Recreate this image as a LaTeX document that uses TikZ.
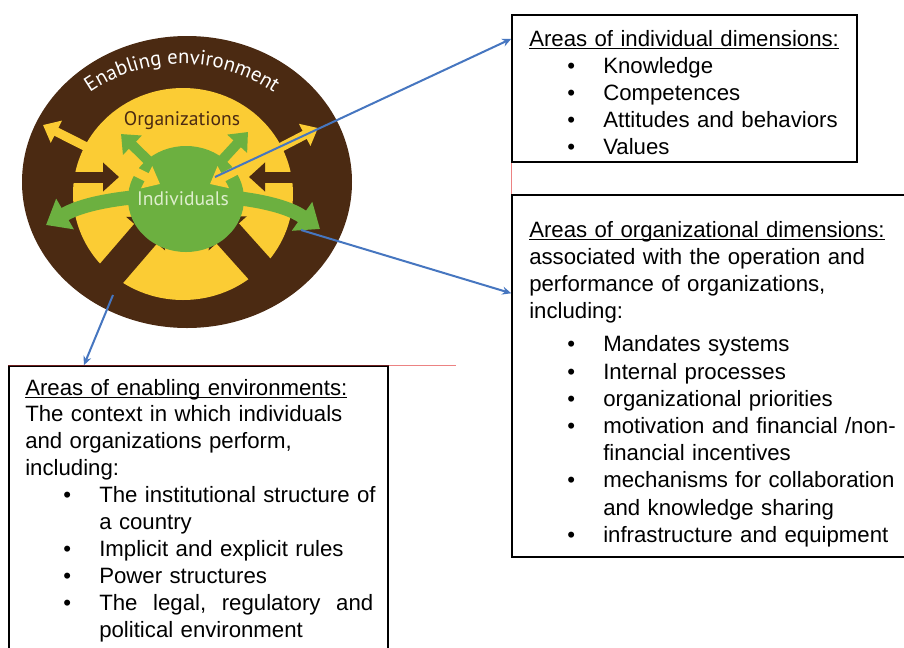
\documentclass[tikz,border=0pt]{standalone}
\usepackage{fontspec}
\setmainfont{Liberation Sans}
\newfontfamily\graphfont{PT Sans}
\usetikzlibrary{arrows.meta,decorations.text}

\newlength{\du}
\setlength{\du}{0.75pt}

\definecolor{envbrown}{RGB}{75,42,18}
\definecolor{orgyellow}{RGB}{251,204,52}
\definecolor{indgreen}{RGB}{108,176,64}
\definecolor{indtextcolor}{RGB}{222,238,205}
\definecolor{linkblue}{RGB}{70,118,192}
\definecolor{markred}{RGB}{236,130,130}
\definecolor{markdark}{RGB}{110,30,30}

\newcommand{\areahead}[1]{\leavevmode\setbox0\hbox{#1}\rlap{\rule[-2.4pt]{\wd0}{0.9pt}}\box0}
\newenvironment{dimlist}[1]{\begin{list}{\textbullet}{%
  \setlength{\leftmargin}{55.5pt}\setlength{\labelsep}{21pt}%
  \setlength{\labelwidth}{10pt}\setlength{\itemsep}{0pt}%
  \setlength{\rightmargin}{0pt}%
  \setlength{\parsep}{0pt}\setlength{\topsep}{#1}\setlength{\partopsep}{0pt}}}%
  {\end{list}}

% arrow tip sizes in pt (1\du = 0.75pt)
\tikzset{
  boxframe/.style={draw=black, line width=1.5\du, inner sep=0pt},
  boxtext/.style={anchor=base west, inner sep=0pt, align=left,
    font=\fontsize{16.65}{20.4}\selectfont},
  link/.style={draw=linkblue, line width=2\du, -{Stealth[length=6.75pt,width=6pt]}},
  brownarrow/.style={envbrown, -{Triangle[length=12pt,width=21pt]}},
  wedgearrow/.style={envbrown, -{Triangle[length=16.5pt,width=37.5pt]}},
  greenarrow/.style={indgreen, -{Triangle[length=12pt,width=19.5pt]}},
  archarrow/.style={indgreen, {Triangle[length=16.5pt,width=25.5pt]}-{Triangle[length=16.5pt,width=25.5pt]}},
  yellowarrow/.style={orgyellow, {Triangle[length=11.25pt,width=18pt]}-{Triangle[length=11.25pt,width=18pt]}},
  graphlabel/.style={inner sep=0pt, font=\graphfont\fontsize{14.7}{15}\selectfont}
}

\begin{document}
\begin{tikzpicture}[x=1\du,y=-1\du]
\useasboundingbox (0,0) rectangle (904,647);
\clip (0,0) rectangle (904,647);
\fill[white] (0,0) rectangle (904,647);

% capacity circles
\fill[envbrown] (187,182) ellipse [x radius=165, y radius=146];
\fill[orgyellow] (183,194) ellipse [x radius=110, y radius=106];
\draw[brownarrow, line width=11\du] (66,177) -- (119,177);
\draw[brownarrow, line width=11\du] (300,177) -- (249,177);
\draw[wedgearrow, line width=30\du] (92,296) -- (160,217);
\draw[wedgearrow, line width=30\du] (282,294) -- (213,217);
\fill[indgreen] (186,199) ellipse [x radius=58, y radius=53];
\draw[greenarrow, line width=10\du] (170,182) -- (121,134);
\draw[greenarrow, line width=10\du] (202,182) -- (248,132);
\draw[archarrow, line width=14\du]
  (46,225) .. controls (110,188) and (262,188) .. (320,229);
\draw[yellowarrow, line width=9\du] (43,125) -- (160,184);
\draw[yellowarrow, line width=9\du] (318,128) -- (210,184);

\path[decorate, decoration={text along path, text align=center,
  text={|\graphfont\fontsize{15.5}{16}\selectfont\color{white}|Enabling environment}}]
  (182,226) ++(233:162) arc[start angle=233, end angle=307, radius=162];
\node[graphlabel, text=envbrown] (orglabel) at (182,121) {Organizations};
\node[graphlabel, text=indtextcolor] (indlabel) at (183,199) {Individuals};

% text boxes
\node[boxframe, minimum width=345\du, minimum height=147\du] (indbox) at (684.5,88.5) {};
\node[boxframe, minimum width=408\du, minimum height=362\du] (orgbox) at (716,376) {};
\node[boxframe, minimum width=379\du, minimum height=314\du] (envbox) at (198.5,523) {};
\draw[markred, line width=1\du] (indbox.south west) -- (orgbox.north west);
\draw[markdark, line width=1.5\du] (envbox.north west) -- (envbox.north east);
\draw[markred, line width=1\du] (envbox.north east) -- ++(67,0);

\node[boxtext, text width=320\du] (indtext) at (529,46) {%
\areahead{Areas of individual dimensions:}
\begin{dimlist}{0pt}
\item Knowledge
\item Competences
\item Attitudes and behaviors
\item Values
\end{dimlist}};

\node[boxtext, text width=380\du] (orgtext) at (529,237) {%
\areahead{Areas of organizational dimensions:}\\
associated with the operation and\\
performance of organizations,\\
including:
\begin{dimlist}{4.5pt}
\item Mandates systems
\item Internal processes
\item organizational priorities
\item motivation and financial /non-\\financial incentives
\item mechanisms for collaboration\\and knowledge sharing
\item infrastructure and equipment
\end{dimlist}};

\node[boxtext, text width=362\du, font=\fontsize{16.65}{20.2}\selectfont] (envtext) at (25,395) {%
\areahead{Areas of enabling environments:}\\
The context in which individuals\\
and organizations perform,\\
including:
\begin{dimlist}{0pt}
\item The institutional structure of\\a country
\item Implicit and explicit rules
\item Power structures
\item \makebox[274\du][l]{The\hfill legal,\hfill regulatory\hfill and}\\political environment
\end{dimlist}};

% connectors
\coordinate (indpt) at (215,177);
\coordinate (orgpt) at (301,230);
\coordinate (envpt) at (113,295);
\draw[link] (indpt) -- (indbox.164);
\draw[link] (orgpt) -- (orgbox.158);
\draw[link] (envpt) -- (envbox.126);
\end{tikzpicture}
\end{document}
